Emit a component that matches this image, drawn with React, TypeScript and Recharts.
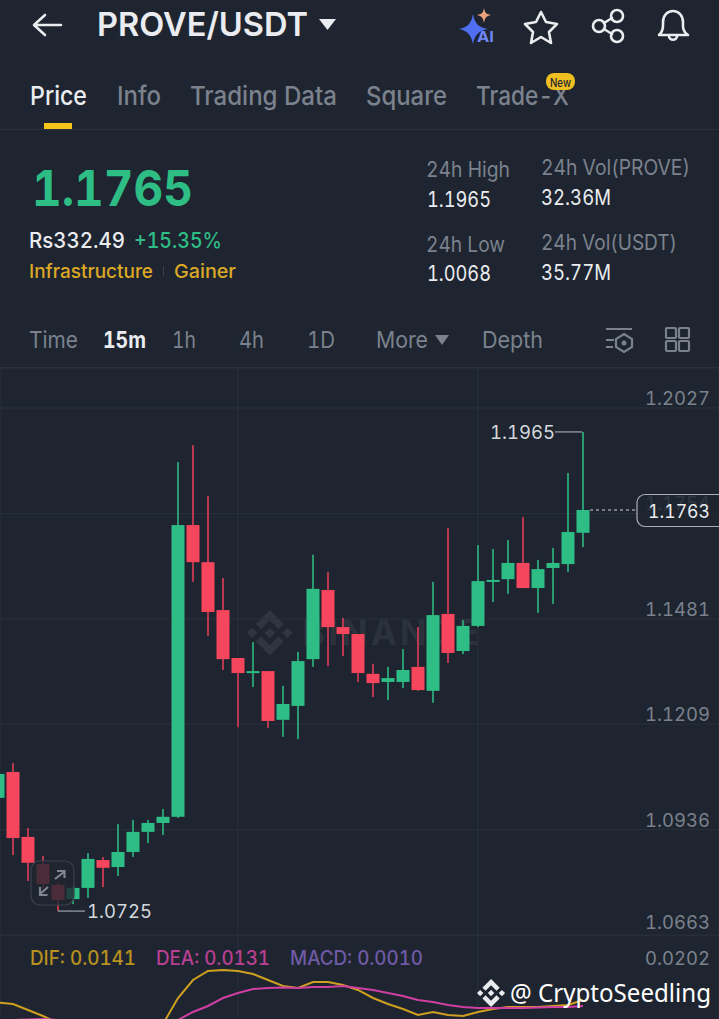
import { Bar, CartesianGrid, ComposedChart, Line, ReferenceLine, XAxis, YAxis } from "recharts"

const BG = "#1e2530"
const GRID = "#2a313b"
const UP = "#2ebd85"
const DOWN = "#f6465d"
const UP_WICK = "#2a9a70"
const DOWN_WICK = "#b8384f"
const MUTED = "#7b828d"
const WHITE = "#eaecef"
const YELLOW = "#dca826"
const FONT = "Inter, sans-serif"

const opens = [1.1018, 1.1085, 1.0917, 1.0847, 1.0793, 1.0756, 1.0785, 1.0857, 1.0839, 1.0878, 1.093, 1.0953, 1.0969, 1.1724, 1.1628, 1.1504, 1.138, 1.1341, 1.1346, 1.122, 1.1256, 1.1377, 1.1556, 1.146, 1.1442, 1.1339, 1.1318, 1.1318, 1.1357, 1.1295, 1.1494, 1.1398, 1.1463, 1.1579, 1.1584, 1.1626, 1.1561, 1.1613, 1.1623, 1.1704]
const highs = [1.1095, 1.1108, 1.094, 1.0868, 1.08, 1.079, 1.0875, 1.0865, 1.095, 1.0961, 1.0961, 1.0989, 1.1887, 1.1931, 1.1799, 1.1587, 1.138, 1.1421, 1.1346, 1.1308, 1.1396, 1.1647, 1.1603, 1.1484, 1.1442, 1.1365, 1.1357, 1.1403, 1.146, 1.1577, 1.1716, 1.1478, 1.1672, 1.1662, 1.1685, 1.1745, 1.1634, 1.1665, 1.1859, 1.1965]
const lows = [1.1, 1.087, 1.0803, 1.0785, 1.0725, 1.0743, 1.0759, 1.0787, 1.0816, 1.0865, 1.0901, 1.0922, 1.0966, 1.1577, 1.1437, 1.1349, 1.1201, 1.1305, 1.1199, 1.1176, 1.117, 1.1357, 1.1359, 1.1385, 1.1318, 1.1279, 1.1271, 1.1302, 1.1295, 1.1264, 1.1367, 1.139, 1.146, 1.1525, 1.1546, 1.1561, 1.1497, 1.152, 1.1603, 1.1667]
const closes = [1.108, 1.0914, 1.085, 1.0795, 1.0754, 1.0785, 1.086, 1.0837, 1.0878, 1.093, 1.0953, 1.0969, 1.1724, 1.1628, 1.1499, 1.1377, 1.1341, 1.1346, 1.1217, 1.1261, 1.1372, 1.1559, 1.146, 1.1442, 1.1341, 1.1315, 1.1328, 1.1349, 1.1297, 1.1491, 1.1393, 1.1463, 1.1579, 1.1582, 1.1626, 1.1561, 1.161, 1.1626, 1.1706, 1.1763]
const dif = [0.01368, 0.01343, 0.01243, 0.01143, 0.01027, 0.0093, 0.0088, 0.0085, 0.0084, 0.0085, 0.0089, 0.0101, 0.01443, 0.01743, 0.01893, 0.0191, 0.01893, 0.01843, 0.01743, 0.01643, 0.0161, 0.0171, 0.0171, 0.0166, 0.01577, 0.01443, 0.01343, 0.0126, 0.0116, 0.0121, 0.0116, 0.01143, 0.0121, 0.0126, 0.01293, 0.01293, 0.01293, 0.0131, 0.01327, 0.0141]
const dea = [0.0106, 0.01077, 0.01085, 0.01093, 0.01077, 0.01043, 0.0101, 0.00977, 0.00943, 0.00927, 0.00927, 0.00977, 0.01077, 0.0121, 0.0131, 0.01443, 0.01527, 0.01593, 0.0161, 0.01618, 0.0161, 0.01627, 0.01627, 0.01643, 0.0161, 0.01577, 0.01527, 0.01477, 0.0141, 0.01377, 0.01327, 0.01293, 0.01277, 0.01277, 0.01277, 0.01277, 0.01285, 0.01293, 0.01293, 0.0131]
const priceTicks = [1.2027, 1.1754, 1.1481, 1.1209, 1.0936, 1.0663]
const macdTicks = [0.0202]
const timeTicks = [16, 32]

const candles = opens.map((open, i) => ({ i, open, high: highs[i], low: lows[i], close: closes[i] }))
const macdRows = dif.map((v, i) => ({ i, dif: v, dea: dea[i] }))

// visible window of candle indexes: candle i sits at x = 15i - 2
const xDomain = [0.1333, 48.0667]

type CandleProps = {
  x: number
  y: number
  width: number
  height: number
  payload: { open: number; high: number; low: number; close: number }
}

function Candle({ x, y, width, height, payload }: CandleProps) {
  const { open, high, low, close } = payload
  const up = close >= open
  const perUnit = height / (high - low)
  const top = y + (high - Math.max(open, close)) * perUnit
  const bodyH = Math.max(Math.abs(open - close) * perUnit, 2)
  const cx = x + width / 2
  return (
    <g>
      <rect x={cx - 1} y={y} width={2} height={height} fill={up ? UP_WICK : DOWN_WICK} />
      <rect x={x} y={top} width={width} height={bodyH} fill={up ? UP : DOWN} />
    </g>
  )
}

function PriceTick({ y, payload }: { y: number; payload: { value: number } }) {
  const lift = payload.value === 1.0663 ? 13 : 10
  return (
    <text x={710} y={y - lift} textAnchor="end" dominantBaseline="central" fontSize={18.5} fontFamily={FONT} fill={MUTED}>
      {payload.value.toFixed(4)}
    </text>
  )
}

function MacdTick({ y, payload }: { y: number; payload: { value: number } }) {
  return (
    <text x={710} y={y - 5} textAnchor="end" dominantBaseline="central" fontSize={18.5} fontFamily={FONT} fill={MUTED}>
      {payload.value.toFixed(4)}
    </text>
  )
}

type LabelProps = {
  x: number
  y: number
  w: number
  size: number
  fill?: string
  weight?: number
  font?: string
  children: string
}

// header text, stretched to the measured width
function Txt({ x, y, w, size, fill = WHITE, weight = 400, font = FONT, children }: LabelProps) {
  return (
    <text
      x={x}
      y={y}
      textLength={w}
      lengthAdjust="spacingAndGlyphs"
      dominantBaseline="central"
      fontSize={size}
      fontWeight={weight}
      fontFamily={font}
      fill={fill}
    >
      {children}
    </text>
  )
}

const LOGO =
  "M38.73 53.2L63.3 28.62l24.6 24.6 14.3-14.31L63.3 0 24.42 38.88zM0 63.31l14.3-14.31 14.31 14.31-14.31 14.3zM38.73 73.41L63.3 98l24.6-24.6 14.31 14.29-38.9 38.91-38.88-38.88-.02-.02zM98 63.31l14.3-14.31 14.31 14.3-14.31 14.32zM77.83 63.3L63.3 48.76 52.56 59.5l-1.24 1.23-2.54 2.54 14.52 14.5 14.53-14.54z"

function Header() {
  const icon = { fill: "none", stroke: WHITE, strokeWidth: 2.6, strokeLinecap: "round", strokeLinejoin: "round" } as const
  const tool = { fill: "none", stroke: MUTED, strokeWidth: 2.2 } as const
  return (
    <svg width={719} height={368} style={{ position: "absolute", left: 0, top: 0 }}>
      {/* top bar */}
      <path d="M61 25H35M45 15L34 25L45 35" {...icon} />
      <Txt x={97} y={24} w={211} size={33} weight={600}>PROVE/USDT</Txt>
      <path d="M319 19H336L327.5 30Z" fill={WHITE} />
      <path d="M473 14C475 24 478 27 488 29C478 31 475 35 473 44C471 35 468 31 459 29C468 27 471 24 473 14Z" fill="#4f6ff0" />
      <path d="M484 8C485 13 486 14 491 15C486 16 485 18 484 23C483 18 482 16 477 15C482 14 483 13 484 8Z" fill="#e9a27a" />
      <Txt x={477} y={36} w={17} size={14} weight={700} fill="#6f86f5">AI</Txt>
      <path d="M541 12L546 22L557 24L549 32L551 43L541 37L531 43L533 32L525 24L536 22Z" {...icon} />
      <circle cx={599} cy={26} r={6} {...icon} />
      <circle cx={617} cy={16} r={6} {...icon} />
      <circle cx={617} cy={36} r={6} {...icon} />
      <path d="M604 23L612 18M604 29L612 34" {...icon} />
      <path d="M659 35C664 31 663 26 663 22C663 16 667 11 673 11C679 11 683 16 683 22C683 26 682 31 688 35Z" {...icon} />
      <path d="M669 36C669 41 677 41 677 36" {...icon} />

      {/* tabs */}
      <Txt x={30} y={95} w={57} size={26} weight={500}>Price</Txt>
      <Txt x={117} y={95} w={44} size={26} fill={MUTED} weight={500}>Info</Txt>
      <Txt x={190} y={95} w={147} size={26} fill={MUTED} weight={500}>Trading Data</Txt>
      <Txt x={366} y={95} w={81} size={26} fill={MUTED} weight={500}>Square</Txt>
      <Txt x={476} y={95} w={93} size={26} fill={MUTED} weight={500}>Trade-X</Txt>
      <rect x={546} y={73} width={29} height={17} rx={8} fill="#f0c020" />
      <Txt x={550} y={82} w={21} size={12} fill="#1e2530" weight={500}>New</Txt>
      <rect x={44} y={123} width={28} height={6} fill="#f5c518" />
      <rect x={0} y={129} width={719} height={1} fill={GRID} />

      {/* price block */}
      <Txt x={32} y={188} w={161} size={50} fill={UP} weight={700}>1.1765</Txt>
      <Txt x={29} y={240} w={96} size={21} weight={500}>Rs332.49</Txt>
      <Txt x={134} y={240} w={88} size={21} fill={UP} weight={500}>+15.35%</Txt>
      <Txt x={29} y={271} w={124} size={19} fill={YELLOW} weight={500}>Infrastructure</Txt>
      <rect x={163} y={266} width={1} height={10} fill="#3a414c" />
      <Txt x={174} y={271} w={62} size={19} fill={YELLOW} weight={500}>Gainer</Txt>

      <Txt x={426} y={169} w={84} size={21} fill={MUTED}>24h High</Txt>
      <Txt x={427} y={199} w={64} size={21}>1.1965</Txt>
      <Txt x={541} y={167} w={149} size={21} fill={MUTED}>24h Vol(PROVE)</Txt>
      <Txt x={541} y={197} w={70} size={21}>32.36M</Txt>
      <Txt x={426} y={244} w={79} size={21} fill={MUTED}>24h Low</Txt>
      <Txt x={427} y={273} w={64} size={21}>1.0068</Txt>
      <Txt x={541} y={242} w={136} size={21} fill={MUTED}>24h Vol(USDT)</Txt>
      <Txt x={541} y={272} w={70} size={21}>35.77M</Txt>

      {/* interval row */}
      <Txt x={29} y={340} w={49} size={23} fill={MUTED}>Time</Txt>
      <Txt x={103} y={340} w={43} size={23} weight={700}>15m</Txt>
      <Txt x={172} y={340} w={24} size={23} fill={MUTED}>1h</Txt>
      <Txt x={239} y={340} w={25} size={23} fill={MUTED}>4h</Txt>
      <Txt x={307} y={340} w={28} size={23} fill={MUTED}>1D</Txt>
      <Txt x={376} y={340} w={52} size={23} fill={MUTED}>More</Txt>
      <path d="M435 335H449L442 345Z" fill={MUTED} />
      <Txt x={482} y={340} w={61} size={23} fill={MUTED}>Depth</Txt>
      <path d="M606 329H632M606 340H614M606 347H613" {...tool} />
      <path d="M624 334L632 339V347L624 352L616 347V339Z" {...tool} />
      <circle cx={624} cy={343} r={2.5} fill={MUTED} />
      <rect x={666} y={328} width={10} height={10} rx={1} {...tool} />
      <rect x={679} y={328} width={10} height={10} rx={1} {...tool} />
      <rect x={666} y={341} width={10} height={10} rx={1} {...tool} />
      <rect x={679} y={341} width={10} height={10} rx={1} {...tool} />
      <rect x={0} y={367} width={719} height={1} fill={GRID} />
    </svg>
  )
}

export default function App() {
  return (
    <div
      style={{
        position: "relative",
        width: 719,
        height: 1019,
        background: BG,
        overflow: "hidden",
        fontFamily: FONT,
        fontVariantNumeric: "tabular-nums",
      }}
    >
      <style>{"html,body{margin:0;background:#1e2530}"}</style>
      <Header />

      {/* watermark sits under the candles */}
      <svg width={719} height={100} style={{ position: "absolute", left: 0, top: 590 }}>
        <g transform="translate(247 20) scale(0.36)">
          <path d={LOGO} fill="rgba(255,255,255,0.08)" />
        </g>
        <text x={302} y={55} fontSize={35} fontWeight={700} fontFamily={FONT} letterSpacing={3} fill="rgba(255,255,255,0.07)">
          BINANCE
        </text>
      </svg>

      <div style={{ position: "absolute", left: 0, top: 368 }}>
        <ComposedChart width={719} height={568} data={candles} margin={{ top: 0, right: 0, bottom: 0, left: 0 }}>
          <CartesianGrid stroke={GRID} strokeWidth={1} />
          <XAxis dataKey="i" type="number" domain={xDomain} ticks={timeTicks} allowDataOverflow hide />
          <YAxis
            orientation="right"
            mirror
            width={80}
            domain={[1.06605, 1.21305]}
            ticks={priceTicks}
            interval={0}
            axisLine={false}
            tickLine={false}
            tick={PriceTick as never}
          />
          <Bar dataKey={(d: (typeof candles)[number]) => [d.low, d.high]} barSize={13} shape={Candle as never} isAnimationActive={false} />
          <ReferenceLine segment={[{ x: 39.47, y: 1.1763 }, { x: 42.53, y: 1.1763 }]} stroke="#d5d8dd" strokeDasharray="3 3" />
          <ReferenceLine
            segment={[{ x: 37.13, y: 1.1965 }, { x: 38.93, y: 1.1965 }]}
            stroke="#b9bdc4"
            label={{ value: "1.1965", position: "left", offset: 0, fill: "#d5d8dd", fontSize: 18.5, fontFamily: FONT }}
          />
          <ReferenceLine
            segment={[{ x: 4, y: 1.0725 }, { x: 5.8, y: 1.0725 }]}
            stroke="#b9bdc4"
            label={{ value: "1.0725", position: "right", offset: 2, fill: "#d5d8dd", fontSize: 18.5, fontFamily: FONT }}
          />
        </ComposedChart>
      </div>

      <div style={{ position: "absolute", left: 0, top: 935 }}>
        <ComposedChart width={719} height={84} data={macdRows} margin={{ top: 0, right: 0, bottom: 0, left: 0 }}>
          <CartesianGrid stroke={GRID} horizontal={false} />
          <XAxis dataKey="i" type="number" domain={xDomain} ticks={timeTicks} allowDataOverflow hide />
          <YAxis
            orientation="right"
            mirror
            width={80}
            domain={[0.01093, 0.02493]}
            ticks={macdTicks}
            allowDataOverflow
            axisLine={false}
            tickLine={false}
            tick={MacdTick as never}
          />
          <Line dataKey="dif" type="linear" stroke="#cfa01f" strokeWidth={2} dot={false} isAnimationActive={false} />
          <Line dataKey="dea" type="linear" stroke="#cf3fa3" strokeWidth={2} dot={false} isAnimationActive={false} />
        </ComposedChart>
      </div>

      {/* overlays on top of the charts */}
      <svg width={719} height={1019} style={{ position: "absolute", left: 0, top: 0, pointerEvents: "none" }}>
        <rect x={637} y={494.5} width={90} height={32} rx={8} fill="rgba(30,37,48,0.8)" stroke="#a9adb4" strokeWidth={1.2} />
        <Txt x={648} y={511} w={62} size={18.5} fill="#eaecef">1.1763</Txt>

        <rect x={31} y={861} width={43} height={44} rx={9} fill="rgba(30,37,48,0.8)" stroke="#3a414c" strokeWidth={1.2} />
        <path d="M55 879L64 872M57 871H64.5V878M48 887L40 894M40 887V895H47.5" fill="none" stroke="#7f858e" strokeWidth={2.2} />

        <Txt x={30} y={958} w={106} size={19.5} fill="#b8911f" weight={500}>DIF: 0.0141</Txt>
        <Txt x={156} y={958} w={114} size={19.5} fill="#b83f92" weight={500}>DEA: 0.0131</Txt>
        <Txt x={290} y={958} w={133} size={19.5} fill="#6f5aa6" weight={500}>MACD: 0.0010</Txt>

        <g transform="translate(477 979) scale(0.222)">
          <path d={LOGO} fill="#eaecef" />
        </g>
        <Txt x={510} y={992} w={201} size={25} fill="#ffffff" font="'Noto Sans', sans-serif">@ CryptoSeedling</Txt>
      </svg>
    </div>
  )
}
